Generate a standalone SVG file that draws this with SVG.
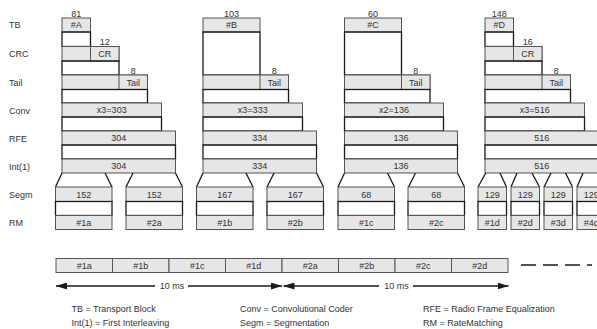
<svg xmlns="http://www.w3.org/2000/svg" width="597" height="329" viewBox="0 0 597 329">
<defs>
<style>
text{font-family:"Liberation Sans",Arial,Helvetica,sans-serif;font-size:9px;fill:#333}
.m{text-anchor:middle}
.g{fill:#e6e6e6;stroke:#555;stroke-width:1}
.w{fill:none;stroke:#1a1a1a;stroke-width:1.3}
.c{fill:none;stroke:#1a1a1a;stroke-width:1.3}
.a{fill:none;stroke:#1a1a1a;stroke-width:1.3}
.d{fill:none;stroke:#1a1a1a;stroke-width:1.6;stroke-dasharray:15 7}
</style>
<marker id="ah" markerUnits="userSpaceOnUse" markerWidth="11" markerHeight="7" refX="11" refY="3.5" orient="auto">
<path d="M0,0 L11,3.5 L0,7 Z" fill="#1a1a1a"/>
</marker>
</defs>

<g id="row-labels">
<text x="9" y="28.3">TB</text>
<text x="9" y="57">CRC</text>
<text x="9" y="85.5">Tail</text>
<text x="9" y="113.5">Conv</text>
<text x="9" y="141.5">RFE</text>
<text x="9" y="169.5">Int(1)</text>
<text x="9" y="197.5">Segm</text>
<text x="9" y="226">RM</text>
</g>

<!-- Column A -->
<g id="colA" transform="translate(62,0)">
<g id="A-TB"><rect class="g" x="0" y="18" width="28.5" height="14"/><text class="m" x="14.25" y="16.8">81</text><text class="m" x="14.25" y="28.3">#A</text></g>
<rect class="w" x="0" y="32" width="28.5" height="14.5"/>
<g id="A-CRC"><rect class="g" x="0" y="46.5" width="57" height="14.5"/><rect class="g" x="28.5" y="46.5" width="28.5" height="14.5"/><text class="m" x="42.75" y="45.3">12</text><text class="m" x="42.75" y="57">CR</text></g>
<rect class="w" x="0" y="61" width="57" height="14"/>
<g id="A-Tail"><rect class="g" x="0" y="75" width="85.5" height="14.5"/><rect class="g" x="57" y="75" width="28.5" height="14.5"/><text class="m" x="71.25" y="73.8">8</text><text class="m" x="71.25" y="85.5">Tail</text></g>
<rect class="w" x="0" y="89.5" width="85.5" height="13.5"/>
<g id="A-Conv"><rect class="g" x="0" y="103" width="99.5" height="14"/><text class="m" x="49.75" y="113.3">x3=303</text></g>
<rect class="w" x="0" y="117" width="99.5" height="14"/>
<g id="A-RFE"><rect class="g" x="0" y="131" width="113.5" height="14"/><text class="m" x="56.75" y="141.3">304</text></g>
<rect class="w" x="0" y="145" width="113.5" height="14"/>
<g id="A-Int"><rect class="g" x="0" y="159" width="113.5" height="14"/><text class="m" x="56.75" y="169.3">304</text></g>
<path class="c" d="M0,173 L-6.5,187 M43,173 L50,187 M71,173 L64,187 M113.5,173 L120.5,187"/>
<g id="A-Segm1"><rect class="g" x="-6.5" y="187" width="56.5" height="14.5"/><text class="m" x="21.75" y="197.5">152</text></g>
<rect class="w" x="-6.5" y="201.5" width="56.5" height="14"/>
<g id="A-RM1"><rect class="g" x="-6.5" y="215.5" width="56.5" height="14"/><text class="m" x="21.75" y="225.8">#1a</text></g>
<g id="A-Segm2"><rect class="g" x="64" y="187" width="56.5" height="14.5"/><text class="m" x="92.25" y="197.5">152</text></g>
<rect class="w" x="64" y="201.5" width="56.5" height="14"/>
<g id="A-RM2"><rect class="g" x="64" y="215.5" width="56.5" height="14"/><text class="m" x="92.25" y="225.8">#2a</text></g>
</g>

<!-- Column B -->
<g id="colB" transform="translate(203,0)">
<g id="B-TB"><rect class="g" x="0" y="18" width="57" height="14"/><text class="m" x="28.5" y="16.8">103</text><text class="m" x="28.5" y="28.3">#B</text></g>
<rect class="w" x="0" y="32" width="57" height="43"/>
<g id="B-Tail"><rect class="g" x="0" y="75" width="85.5" height="14.5"/><rect class="g" x="57" y="75" width="28.5" height="14.5"/><text class="m" x="71.25" y="73.8">8</text><text class="m" x="71.25" y="85.5">Tail</text></g>
<rect class="w" x="0" y="89.5" width="85.5" height="13.5"/>
<g id="B-Conv"><rect class="g" x="0" y="103" width="99.5" height="14"/><text class="m" x="49.75" y="113.3">x3=333</text></g>
<rect class="w" x="0" y="117" width="99.5" height="14"/>
<g id="B-RFE"><rect class="g" x="0" y="131" width="113.5" height="14"/><text class="m" x="56.75" y="141.3">334</text></g>
<rect class="w" x="0" y="145" width="113.5" height="14"/>
<g id="B-Int"><rect class="g" x="0" y="159" width="113.5" height="14"/><text class="m" x="56.75" y="169.3">334</text></g>
<path class="c" d="M0,173 L-6.5,187 M43,173 L50,187 M71,173 L64,187 M113.5,173 L120.5,187"/>
<g id="B-Segm1"><rect class="g" x="-6.5" y="187" width="56.5" height="14.5"/><text class="m" x="21.75" y="197.5">167</text></g>
<rect class="w" x="-6.5" y="201.5" width="56.5" height="14"/>
<g id="B-RM1"><rect class="g" x="-6.5" y="215.5" width="56.5" height="14"/><text class="m" x="21.75" y="225.8">#1b</text></g>
<g id="B-Segm2"><rect class="g" x="64" y="187" width="56.5" height="14.5"/><text class="m" x="92.25" y="197.5">167</text></g>
<rect class="w" x="64" y="201.5" width="56.5" height="14"/>
<g id="B-RM2"><rect class="g" x="64" y="215.5" width="56.5" height="14"/><text class="m" x="92.25" y="225.8">#2b</text></g>
</g>

<!-- Column C -->
<g id="colC" transform="translate(344.5,0)">
<g id="C-TB"><rect class="g" x="0" y="18" width="57" height="14"/><text class="m" x="28.5" y="16.8">60</text><text class="m" x="28.5" y="28.3">#C</text></g>
<rect class="w" x="0" y="32" width="57" height="43"/>
<g id="C-Tail"><rect class="g" x="0" y="75" width="85.5" height="14.5"/><rect class="g" x="57" y="75" width="28.5" height="14.5"/><text class="m" x="71.25" y="73.8">8</text><text class="m" x="71.25" y="85.5">Tail</text></g>
<rect class="w" x="0" y="89.5" width="85.5" height="13.5"/>
<g id="C-Conv"><rect class="g" x="0" y="103" width="99" height="14"/><text class="m" x="49.5" y="113.3">x2=136</text></g>
<rect class="w" x="0" y="117" width="99" height="14"/>
<g id="C-RFE"><rect class="g" x="0" y="131" width="113" height="14"/><text class="m" x="56.5" y="141.3">136</text></g>
<rect class="w" x="0" y="145" width="113" height="14"/>
<g id="C-Int"><rect class="g" x="0" y="159" width="113" height="14"/><text class="m" x="56.5" y="169.3">136</text></g>
<path class="c" d="M0,173 L-6.5,187 M43,173 L50,187 M71,173 L64,187 M113,173 L120,187"/>
<g id="C-Segm1"><rect class="g" x="-6.5" y="187" width="56.5" height="14.5"/><text class="m" x="21.75" y="197.5">68</text></g>
<rect class="w" x="-6.5" y="201.5" width="56.5" height="14"/>
<g id="C-RM1"><rect class="g" x="-6.5" y="215.5" width="56.5" height="14"/><text class="m" x="21.75" y="225.8">#1c</text></g>
<g id="C-Segm2"><rect class="g" x="63.5" y="187" width="56.5" height="14.5"/><text class="m" x="91.75" y="197.5">68</text></g>
<rect class="w" x="63.5" y="201.5" width="56.5" height="14"/>
<g id="C-RM2"><rect class="g" x="63.5" y="215.5" width="56.5" height="14"/><text class="m" x="91.75" y="225.8">#2c</text></g>
</g>

<!-- Column D -->
<g id="colD" transform="translate(485,0)">
<g id="D-TB"><rect class="g" x="0" y="18" width="28.5" height="14"/><text class="m" x="14.25" y="16.8">148</text><text class="m" x="14.25" y="28.3">#D</text></g>
<rect class="w" x="0" y="32" width="28.5" height="14.5"/>
<g id="D-CRC"><rect class="g" x="0" y="46.5" width="57" height="14.5"/><rect class="g" x="28.5" y="46.5" width="28.5" height="14.5"/><text class="m" x="42.75" y="45.3">16</text><text class="m" x="42.75" y="57">CR</text></g>
<rect class="w" x="0" y="61" width="57" height="14"/>
<g id="D-Tail"><rect class="g" x="0" y="75" width="85.5" height="14.5"/><rect class="g" x="57" y="75" width="28.5" height="14.5"/><text class="m" x="71.25" y="73.8">8</text><text class="m" x="71.25" y="85.5">Tail</text></g>
<rect class="w" x="0" y="89.5" width="85.5" height="13.5"/>
<g id="D-Conv"><rect class="g" x="0" y="103" width="99.5" height="14"/><text class="m" x="49.75" y="113.3">x3=516</text></g>
<rect class="w" x="0" y="117" width="99.5" height="14"/>
<g id="D-RFE"><rect class="g" x="0" y="131" width="113.5" height="14"/><text class="m" x="56.75" y="141.3">516</text></g>
<rect class="w" x="0" y="145" width="113.5" height="14"/>
<g id="D-Int"><rect class="g" x="0" y="159" width="113.5" height="14"/><text class="m" x="56.75" y="169.3">516</text></g>
<path class="c" d="M0.7,173 L-7,187 M15,173 L21.5,187 M32,173 L26,187 M47,173 L54.5,187 M66,173 L59,187 M80.5,173 L87.5,187 M98,173 L92,187 M113,173 L120.5,187"/>
<g id="D-Segm1"><rect class="g" x="-7" y="187" width="28.5" height="14.5"/><text class="m" x="7.25" y="197.5">129</text></g>
<rect class="w" x="-7" y="201.5" width="28.5" height="14"/>
<g id="D-RM1"><rect class="g" x="-7" y="215.5" width="28.5" height="14"/><text class="m" x="7.25" y="225.8">#1d</text></g>
<g id="D-Segm2"><rect class="g" x="26" y="187" width="28.5" height="14.5"/><text class="m" x="40.25" y="197.5">129</text></g>
<rect class="w" x="26" y="201.5" width="28.5" height="14"/>
<g id="D-RM2"><rect class="g" x="26" y="215.5" width="28.5" height="14"/><text class="m" x="40.25" y="225.8">#2d</text></g>
<g id="D-Segm3"><rect class="g" x="59" y="187" width="28.5" height="14.5"/><text class="m" x="73.25" y="197.5">129</text></g>
<rect class="w" x="59" y="201.5" width="28.5" height="14"/>
<g id="D-RM3"><rect class="g" x="59" y="215.5" width="28.5" height="14"/><text class="m" x="73.25" y="225.8">#3d</text></g>
<g id="D-Segm4"><rect class="g" x="92" y="187" width="28.5" height="14.5"/><text class="m" x="106.25" y="197.5">129</text></g>
<rect class="w" x="92" y="201.5" width="28.5" height="14"/>
<g id="D-RM4"><rect class="g" x="92" y="215.5" width="28.5" height="14"/><text class="m" x="106.25" y="225.8">#4d</text></g>
</g>

<!-- Timeline -->
<g id="timeline">
<g id="T1"><rect class="g" x="56" y="258.5" width="56.5" height="14"/><text class="m" x="84.25" y="268.8">#1a</text></g>
<g id="T2"><rect class="g" x="112.5" y="258.5" width="56.5" height="14"/><text class="m" x="140.75" y="268.8">#1b</text></g>
<g id="T3"><rect class="g" x="169" y="258.5" width="56.5" height="14"/><text class="m" x="197.25" y="268.8">#1c</text></g>
<g id="T4"><rect class="g" x="225.5" y="258.5" width="56.5" height="14"/><text class="m" x="253.75" y="268.8">#1d</text></g>
<g id="T5"><rect class="g" x="282" y="258.5" width="56.5" height="14"/><text class="m" x="310.25" y="268.8">#2a</text></g>
<g id="T6"><rect class="g" x="338.5" y="258.5" width="56.5" height="14"/><text class="m" x="366.75" y="268.8">#2b</text></g>
<g id="T7"><rect class="g" x="395" y="258.5" width="56.5" height="14"/><text class="m" x="423.25" y="268.8">#2c</text></g>
<g id="T8"><rect class="g" x="451.5" y="258.5" width="56.5" height="14"/><text class="m" x="479.75" y="268.8">#2d</text></g>
</g>

<g id="connectors">
<path class="d" d="M521,265 L592,265"/>
<path class="a" d="M155,286 L56,286" marker-end="url(#ah)"/>
<path class="a" d="M188,286 L282,286" marker-end="url(#ah)"/>
<path class="a" d="M379,286 L283.5,286" marker-end="url(#ah)"/>
<path class="a" d="M413,286 L508.5,286" marker-end="url(#ah)"/>
</g>
<text class="m" x="172" y="289.3">10 ms</text>
<text class="m" x="396.5" y="289.3">10 ms</text>

<g id="legend">
<text x="71.5" y="311.5">TB = Transport Block</text>
<text x="71.5" y="326">Int(1) = First Interleaving</text>
<text x="240" y="311.5">Conv = Convolutional Coder</text>
<text x="240" y="326">Segm = Segmentation</text>
<text x="423" y="311.5">RFE = Radio Frame Equalization</text>
<text x="423" y="326">RM = RateMatching</text>
</g>
</svg>
